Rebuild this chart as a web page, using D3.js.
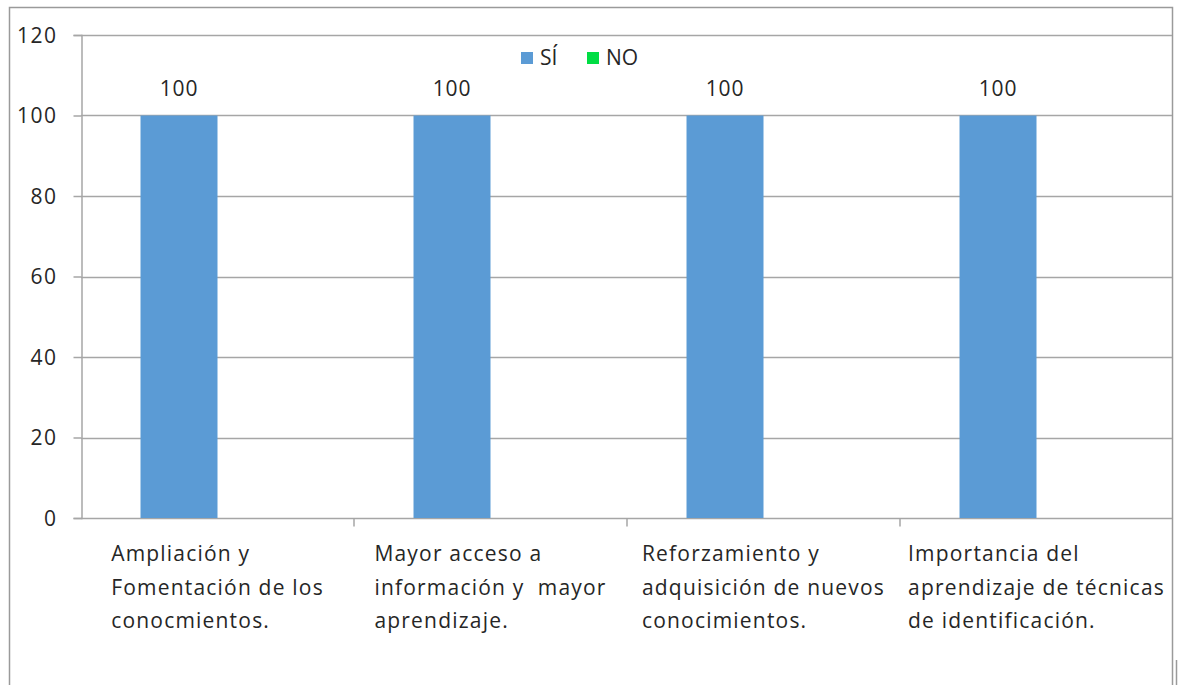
<!DOCTYPE html>
<html><head><meta charset="utf-8">
<script src="https://cdn.jsdelivr.net/npm/d3@7"></script>
<style>
body{margin:0;background:#fff;}
svg{display:block;font-family:"Open Sans",sans-serif;}
</style></head>
<body>
<svg id="chart" width="1181" height="685"></svg>
<script>
const categories = [
  ["Ampliación y", "Fomentación de los", "conocmientos."],
  ["Mayor acceso a", "información y  mayor", "aprendizaje."],
  ["Reforzamiento y", "adquisición de nuevos", "conocimientos."],
  ["Importancia del", "aprendizaje de técnicas", "de identificación."]
];
const seriesNames = ["SÍ", "NO"];
const siValues = [100, 100, 100, 100];
const noValues = [0, 0, 0, 0];
const yTicks = [0, 20, 40, 60, 80, 100, 120];
const colors = ["#5B9BD5", "#00DD44"];

const svg = d3.select("#chart");
const M = {left: 81, right: 1173, top: 35, bottom: 518};
const txt = "#262626";
const fs = 21;

// outer border
svg.append("path").attr("d", "M9.5,690 V7.5 H1172.5 V690")
  .attr("fill", "none").attr("stroke", "#9a9a9a").attr("stroke-width", 1.5);
svg.append("line").attr("x1", 1176.5).attr("x2", 1176.5).attr("y1", 660).attr("y2", 690)
  .attr("stroke", "#9a9a9a").attr("stroke-width", 1.5);

const idx = categories.map((d, i) => i);
const x = d3.scaleBand().domain(idx).range([M.left, M.right]).paddingInner(0).paddingOuter(0);
const xInner = d3.scaleBand().domain(seriesNames).range([0, x.bandwidth()]).paddingOuter(0.773).paddingInner(0);
const y = d3.scaleLinear().domain([0, 120]).range([M.bottom, M.top]);

// gridlines
svg.append("g").selectAll("line").data(yTicks.filter(t => t > 0)).join("line")
  .attr("x1", M.left).attr("x2", M.right - 1)
  .attr("y1", d => Math.round(y(d)) + 0.5).attr("y2", d => Math.round(y(d)) + 0.5)
  .attr("stroke", "#a6a6a6").attr("stroke-width", 1.5);

// y axis
const yAxis = svg.append("g").attr("transform", `translate(${M.left + 0.5},0)`)
  .call(d3.axisLeft(y).tickValues(yTicks).tickSize(8).tickPadding(16));
yAxis.select(".domain").attr("stroke", "#a6a6a6").attr("stroke-width", 1.5);
yAxis.selectAll(".tick line").attr("stroke", "#a6a6a6").attr("stroke-width", 1.5);
yAxis.selectAll(".tick text").attr("font-size", fs).attr("fill", txt)
  .attr("font-family", "Open Sans, sans-serif").attr("letter-spacing", 1.5).attr("dy", "0.35em");

// x axis
const xAxisG = svg.append("g").attr("transform", `translate(0,${Math.round(y(0)) + 0.5})`);
xAxisG.append("line").attr("x1", M.left).attr("x2", M.right - 1)
  .attr("stroke", "#a6a6a6").attr("stroke-width", 1.5);
xAxisG.selectAll("line.tk").data(idx.slice(1)).join("line").attr("class", "tk")
  .attr("x1", d => x(d)).attr("x2", d => x(d)).attr("y1", 0).attr("y2", 8)
  .attr("stroke", "#a6a6a6").attr("stroke-width", 1.5);

// bars
const series = [siValues, noValues];
series.forEach((vals, s) => {
  svg.append("g").selectAll("rect").data(vals).join("rect")
    .attr("x", (d, i) => x(i) + xInner(seriesNames[s]))
    .attr("width", xInner.bandwidth())
    .attr("y", d => y(d))
    .attr("height", d => y(0) - y(d))
    .attr("fill", colors[s]);
});

// value labels (SÍ)
svg.append("g").selectAll("text").data(siValues).join("text")
  .attr("x", (d, i) => x(i) + xInner("SÍ") + xInner.bandwidth() / 2)
  .attr("y", d => y(d) - 20)
  .attr("text-anchor", "middle").attr("font-size", fs).attr("fill", txt).attr("letter-spacing", 0.8)
  .text(d => d);

// category labels: lines left-aligned, block centered in band
categories.forEach((lines, i) => {
  const t = svg.append("text").attr("font-size", fs).attr("fill", txt).attr("y", 561)
    .attr("letter-spacing", 1.2);
  lines.forEach((ln, j) => {
    t.append("tspan").attr("x", 0).attr("dy", j === 0 ? 0 : 33.5)
      .attr("xml:space", "preserve").style("white-space", "pre").text(ln);
  });
  let w = 0;
  t.selectAll("tspan").each(function(){ w = Math.max(w, this.getBBox().width); });
  t.attr("transform", `translate(${x(i) + x.bandwidth() / 2 - w / 2},0)`);
});

// legend
const leg = svg.append("g");
const legItems = [{name: "SÍ", x: 521}, {name: "NO", x: 587}];
legItems.forEach((it, k) => {
  leg.append("rect").attr("x", it.x).attr("y", 52).attr("width", 12).attr("height", 12).attr("fill", colors[k]);
  leg.append("text").attr("x", it.x + 19).attr("y", 65).attr("font-size", fs).attr("fill", txt).text(it.name);
});
</script>
</body></html>
